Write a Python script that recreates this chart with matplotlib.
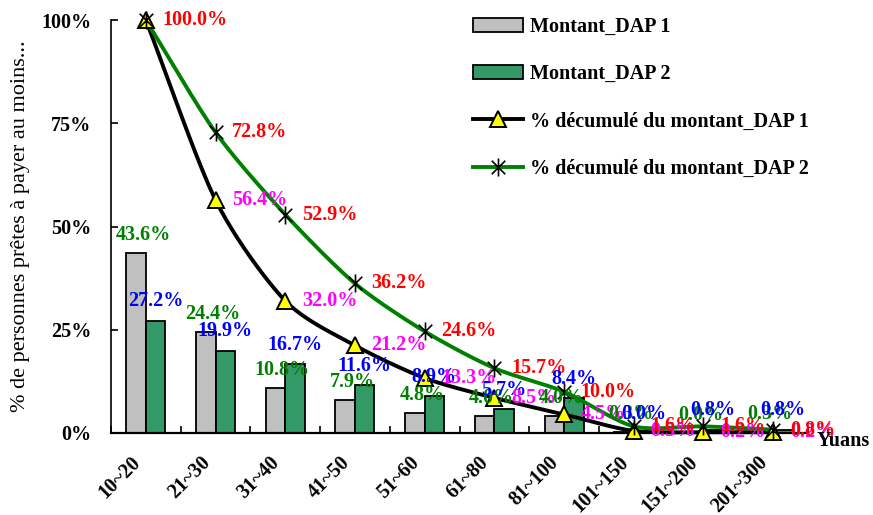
import matplotlib.pyplot as plt
import numpy as np
from matplotlib.path import Path

plt.rcParams['font.family'] = ['Liberation Serif', 'DejaVu Serif']
plt.rcParams['font.weight'] = 'bold'
plt.rcParams['font.size'] = 14.5

# tranches de montant et pourcentages
tranches = ['10~20', '21~30', '31~40', '41~50', '51~60', '61~80',
            '81~100', '101~150', '151~200', '201~300']
montant_dap1 = [43.6, 24.4, 10.8, 7.9, 4.8, 4.0, 4.0, 0.3, 0.0, 0.3]
montant_dap2 = [27.2, 19.9, 16.7, 11.6, 8.9, 5.7, 8.4, 0.0, 0.8, 0.8]
decumul_dap1 = [100.0, 56.4, 32.0, 21.2, 13.3, 8.5, 4.5, 0.5, 0.2, 0.2]
decumul_dap2 = [100.0, 72.8, 52.9, 36.2, 24.6, 15.7, 10.0, 1.6, 1.6, 0.8]


def lisser(x, y, n=24, tension=0.8):
    # courbe lissée (Catmull-Rom) passant par les points
    x = np.asarray(x, float)
    y = np.asarray(y, float)
    px = np.concatenate([[2 * x[0] - x[1]], x, [2 * x[-1] - x[-2]]])
    py = np.concatenate([[2 * y[0] - y[1]], y, [2 * y[-1] - y[-2]]])
    t = np.linspace(0, 1, n, endpoint=False)
    xs, ys = [], []
    for i in range(1, len(px) - 2):
        for p, out in ((px, xs), (py, ys)):
            p0, p1, p2, p3 = p[i - 1:i + 3]
            # Bézier cubique équivalente
            c1 = p1 + tension * (p2 - p0) / 6
            c2 = p2 - tension * (p3 - p1) / 6
            out.extend((1 - t) ** 3 * p1 + 3 * (1 - t) ** 2 * t * c1
                       + 3 * (1 - t) * t ** 2 * c2 + t ** 3 * p2)
    xs.append(x[-1])
    ys.append(y[-1])
    return xs, ys


# marqueur étoile façon Excel : X + trait vertical
etoile = Path([(0, -1), (0, 1), (-0.75, -0.75), (0.75, 0.75), (-0.75, 0.75), (0.75, -0.75)],
              [Path.MOVETO, Path.LINETO, Path.MOVETO, Path.LINETO, Path.MOVETO, Path.LINETO])

fig = plt.figure(figsize=(8.73, 5.15), dpi=100)
ax = fig.add_axes([111 / 873, 1 - 433 / 515, 697 / 873, 413 / 515])

x = np.arange(len(tranches))
w = 0.28
b1 = ax.bar(x - w / 2, montant_dap1, w, color='#C0C0C0', edgecolor='black', linewidth=1.3,
            label='Montant_DAP 1', zorder=2)
b2 = ax.bar(x + w / 2, montant_dap2, w, color='#339966', edgecolor='black', linewidth=1.3,
            label='Montant_DAP 2', zorder=2)

sx, sy = lisser(x, decumul_dap1)
ax.plot(sx, sy, color='black', lw=2.8, zorder=3, clip_on=False)
ax.plot(x, decumul_dap1, ls='none', marker='^', ms=12, mfc='#FFFF00', mec='black', mew=1.4,
        zorder=5, clip_on=False)
sx, sy = lisser(x, decumul_dap2)
ax.plot(sx, sy, color='#008000', lw=2.8, zorder=3, clip_on=False)
ax.plot(x, decumul_dap2, ls='none', marker=etoile, ms=13, mec='black', mew=1.2,
        zorder=5, clip_on=False)

# entrées de légende pour les courbes
l1, = ax.plot([], [], color='black', lw=2.8, marker='^', ms=12, mfc='#FFFF00', mec='black',
              mew=1.4, label='% décumulé du montant_DAP 1')
l2, = ax.plot([], [], color='#008000', lw=2.8, marker=etoile, ms=13, mec='black', mew=1.2,
              label='% décumulé du montant_DAP 2')

# étiquettes de valeurs
for i in x:
    ax.annotate(f'{montant_dap1[i]:.1f}%', (i - w / 2, montant_dap1[i]), xytext=(5, 13),
                textcoords='offset points', ha='center', va='center', color='#008000', zorder=6)
    ax.annotate(f'{montant_dap2[i]:.1f}%', (i + w / 2, montant_dap2[i]), xytext=(0, 14),
                textcoords='offset points', ha='center', va='center', color='#0000FF', zorder=6)
    if i > 0:
        ax.annotate(f'{decumul_dap1[i]:.1f}%', (i, decumul_dap1[i]), xytext=(12, 0),
                    textcoords='offset points', ha='left', va='center', color='#FF00FF', zorder=6)
    ax.annotate(f'{decumul_dap2[i]:.1f}%', (i, decumul_dap2[i]), xytext=(12, 0),
                textcoords='offset points', ha='left', va='center', color='#FF0000', zorder=6)

ax.set_xlim(-0.5, len(tranches) - 0.5)
ax.set_ylim(0, 100)
ax.set_yticks([0, 25, 50, 75, 100])
ax.set_yticklabels(['0%', '25%', '50%', '75%', '100%'])
ax.set_xticks(np.arange(len(tranches) + 1) - 0.5)
ax.set_xticklabels([])
ax.tick_params(axis='both', direction='in', length=5, width=1.2)
ax.tick_params(axis='y', pad=14)

for i, t in enumerate(tranches):
    ax.annotate(t, (i, 0), xytext=(-6, -19), textcoords='offset points',
                ha='right', va='center', rotation=45, rotation_mode='anchor')
fig.text(870 / 873, 1 - 441 / 515, 'Yuans', ha='right', va='center')

ax.spines['top'].set_visible(False)
ax.spines['right'].set_visible(False)
ax.spines['left'].set_linewidth(1.2)
ax.spines['bottom'].set_linewidth(1.6)

ax.set_ylabel('% de personnes prêtes à payer au moins...', fontsize=16, labelpad=8)

ax.legend([b1, b2, l1, l2], [h.get_label() for h in (b1, b2, l1, l2)],
          loc='upper left', bbox_to_anchor=(463 / 873, 1 - 7 / 515),
          bbox_transform=fig.transFigure, frameon=False, borderpad=0,
          handlelength=2.5, handletextpad=0.35, labelspacing=1.35)

fig.savefig('out.png', dpi=100)
